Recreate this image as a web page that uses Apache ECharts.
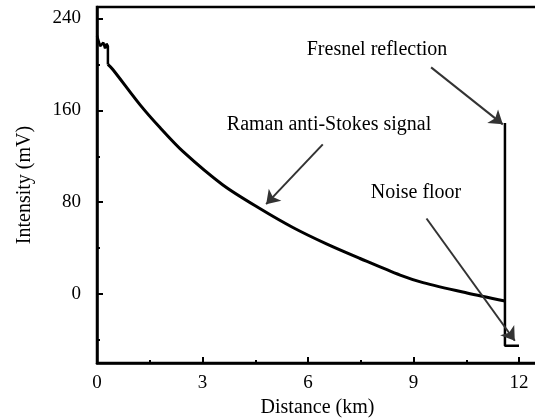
<!DOCTYPE html>
<html>
<head>
<meta charset="utf-8">
<script src="https://cdn.jsdelivr.net/npm/echarts@6/dist/echarts.min.js"></script>
<style>html,body{margin:0;padding:0;background:#fff}#c{width:535px;height:418px}</style>
</head>
<body>
<div id="c"></div>
<script>
// Distance (km) / Intensity (mV)
var startX = [0, 0.09, 0.18, 0.23, 0.27, 0.31, 0.31];
var startY = [225, 216, 219, 214, 218, 216, 200];
var ramanX = [0.31, 0.45, 1.22, 1.79, 2.45, 3.58, 4.63, 5.57, 6.54, 7.48, 8.62, 9.27, 10.52, 11.6];
var ramanY = [200, 195.6, 165, 145, 124, 95, 74.5, 58, 43.5, 31, 16.5, 10, 1, -6];
var endX = [11.6, 11.6, 11.6, 12.0];
var endY = [-6, 149, -45, -45];
var xTicks = [0, 3, 6, 9, 12];
var xMinor = [1.5, 4.5, 7.5, 10.5];
var yTicks = [0, 80, 160, 240];
var yMinor = [-40, 40, 120, 200];
var annotations = [
  {text: 'Fresnel reflection', from: [9.50, 197.4], to: [11.54, 147.8]},
  {text: 'Raman anti-Stokes signal', from: [6.42, 130.4], to: [4.81, 78.3]},
  {text: 'Noise floor', from: [9.37, 65.8], to: [11.88, -40.6]}
];

function pairs(xs, ys) { return xs.map(function (x, i) { return [x, ys[i]]; }); }

var FONT = 'Liberation Serif';
var chart = echarts.init(document.getElementById('c'), null, {renderer: 'canvas'});
var xmin = 0, xmax = 12.54, ymin = -60, ymax = 250;

var option = {
  animation: false,
  backgroundColor: '#fff',
  grid: {left: 97, top: 7, right: -3, bottom: 55, containLabel: false, outerBoundsMode: 'none',
         show: true, borderColor: '#000', borderWidth: 2.5, backgroundColor: 'transparent'},
  xAxis: [{
    type: 'value', min: xmin, max: xmax, position: 'bottom',
    name: 'Distance (km)', nameLocation: 'middle', nameGap: 31,
    nameTextStyle: {fontFamily: FONT, fontSize: 20, color: '#000'},
    axisLine: {show: true, onZero: false, lineStyle: {color: '#000', width: 2.5}},
    axisTick: {show: true, inside: true, length: 6, lineStyle: {color: '#000', width: 2}, customValues: xTicks},
    axisLabel: {show: true, margin: 11, fontFamily: FONT, fontSize: 19, color: '#000', customValues: xTicks},
    splitLine: {show: false}
  }, {
    type: 'value', min: xmin, max: xmax, position: 'bottom',
    axisLine: {show: false, onZero: false},
    axisTick: {show: true, inside: true, length: 3, lineStyle: {color: '#000', width: 2}, customValues: xMinor},
    axisLabel: {show: false},
    splitLine: {show: false}
  }],
  yAxis: [{
    type: 'value', min: ymin, max: ymax, position: 'left',
    name: 'Intensity (mV)', nameLocation: 'middle', nameGap: 62,
    nameTextStyle: {fontFamily: FONT, fontSize: 20, color: '#000'},
    axisLine: {show: true, onZero: false, lineStyle: {color: '#000', width: 2.5}},
    axisTick: {show: true, inside: true, length: 6, lineStyle: {color: '#000', width: 2}, customValues: yTicks},
    axisLabel: {show: true, margin: 16, fontFamily: FONT, fontSize: 19, color: '#000', customValues: yTicks},
    splitLine: {show: false}
  }, {
    type: 'value', min: ymin, max: ymax, position: 'left',
    axisLine: {show: false, onZero: false},
    axisTick: {show: true, inside: true, length: 3, lineStyle: {color: '#000', width: 2}, customValues: yMinor},
    axisLabel: {show: false},
    splitLine: {show: false}
  }],
  series: [{
    type: 'line', data: pairs(startX, startY), showSymbol: false,
    lineStyle: {color: '#000', width: 2.5}, silent: true
  }, {
    type: 'line', data: pairs(ramanX, ramanY), showSymbol: false, smooth: 0.3,
    lineStyle: {color: '#000', width: 3}, silent: true,
    markLine: {
      silent: true, animation: false,
      symbol: ['none', 'arrow'], symbolSize: 13,
      label: {show: false},
      emphasis: {disabled: true},
      lineStyle: {color: '#333', width: 2, type: 'solid'},
      itemStyle: {color: '#333'},
      data: annotations.map(function (a) {
        return [{coord: a.from}, {coord: a.to}];
      })
    }
  }, {
    type: 'line', data: pairs(endX, endY), showSymbol: false,
    lineStyle: {color: '#000', width: 2.5}, silent: true
  }],
  graphic: [
    {type: 'text', x: 377, y: 50, style: {text: annotations[0].text, align: 'center', verticalAlign: 'middle', font: '20px "Liberation Serif"', fill: '#000'}},
    {type: 'text', x: 329, y: 125, style: {text: annotations[1].text, align: 'center', verticalAlign: 'middle', font: '20px "Liberation Serif"', fill: '#000'}},
    {type: 'text', x: 416, y: 193, style: {text: annotations[2].text, align: 'center', verticalAlign: 'middle', font: '20px "Liberation Serif"', fill: '#000'}}
  ]
};
chart.setOption(option);
</script>
</body>
</html>
